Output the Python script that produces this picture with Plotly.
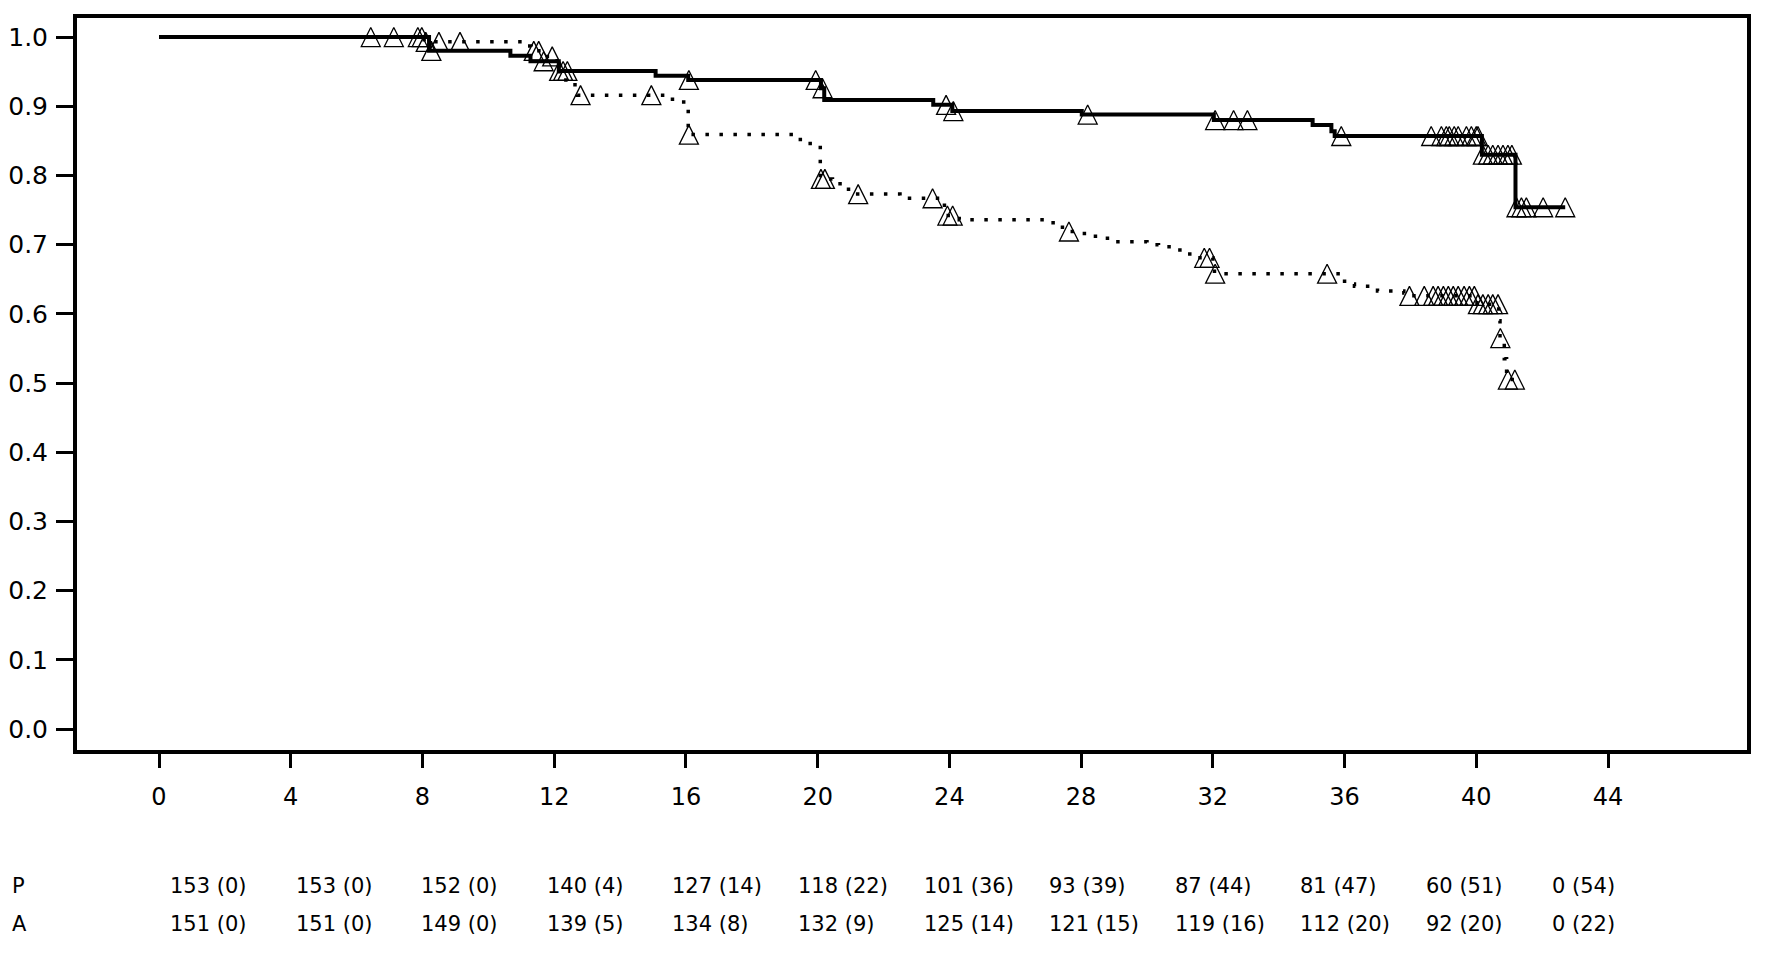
import numpy as np
import plotly.graph_objects as go

# ---- Solid curve (P): Kaplan-Meier step times and survival ----
p_time = [0, 8.2, 10.67, 11.28, 12.14, 15.08, 16.07, 20.1, 20.2, 23.51, 24.09,
          28.02, 32.03, 35.03, 35.6, 35.7, 40.17, 41.19]
p_surv = [1.0, 0.980, 0.973, 0.965, 0.951, 0.944, 0.938, 0.926, 0.909, 0.902, 0.893,
          0.888, 0.880, 0.873, 0.864, 0.857, 0.830, 0.754]
p_end = 42.7
p_cens = [6.43, 7.86, 8.27, 11.68, 12.15, 12.27, 12.4, 16.09, 19.94, 20.15, 23.9,
          24.12, 28.2, 32.07, 32.63, 33.05, 35.9, 38.63, 38.94, 39.09, 39.18, 39.33,
          39.45, 39.7, 39.85, 40.0, 40.05, 40.2, 40.36, 40.5, 40.66, 40.81, 40.96,
          41.08, 41.22, 41.37, 41.52, 42.03, 42.7]

# ---- Dotted curve (A) ----
a_time = [0, 8.05, 11.15, 11.3, 11.73, 12.09, 12.15, 12.22, 12.45, 12.7, 15.35,
          15.75, 16.0, 16.07, 19.25, 19.55, 20.08, 20.45, 20.75, 21.1, 22.5, 23.7,
          23.85, 24.3, 27.15, 27.5, 28.1, 28.8, 30.0, 30.35, 31.0, 31.3, 32.0, 32.05,
          36.0, 36.3, 37.0, 37.8, 37.95, 40.02, 40.68, 40.72, 40.85, 40.92]
a_surv = [1.0, 0.993, 0.987, 0.980, 0.972, 0.963, 0.950, 0.938, 0.931, 0.916, 0.910,
          0.906, 0.900, 0.859, 0.852, 0.846, 0.795, 0.788, 0.780, 0.773, 0.767, 0.763,
          0.742, 0.736, 0.725, 0.719, 0.712, 0.704, 0.700, 0.697, 0.689, 0.681, 0.674, 0.658,
          0.643, 0.640, 0.633, 0.630, 0.626, 0.614, 0.590, 0.565, 0.535, 0.505]
a_end = 41.17
a_cens = [7.13, 7.98, 8.1, 8.5, 9.14, 11.38, 11.53, 11.94, 12.8, 14.95, 16.09, 20.1,
          20.22, 21.23, 23.49, 23.94, 24.1, 27.63, 31.74, 31.9, 32.07, 35.47, 37.97,
          38.42, 38.69, 38.84, 39.0, 39.15, 39.3, 39.45, 39.63, 39.79, 39.94, 40.05,
          40.2, 40.36, 40.5, 40.66, 40.73, 40.96, 41.17]

# ---- Number-at-risk table ----
table_times = [0, 4, 8, 12, 16, 20, 24, 28, 32, 36, 40, 44]
p_n = [153, 153, 152, 140, 127, 118, 101, 93, 87, 81, 60, 0]
p_c = [0, 0, 0, 4, 14, 22, 36, 39, 44, 47, 51, 54]
a_n = [151, 151, 149, 139, 134, 132, 125, 121, 119, 112, 92, 0]
a_c = [0, 0, 0, 5, 8, 9, 14, 15, 16, 20, 20, 22]
row_labels = ["P", "A"]

x_ticks = [0, 4, 8, 12, 16, 20, 24, 28, 32, 36, 40, 44]
y_ticks = [0.0, 0.1, 0.2, 0.3, 0.4, 0.5, 0.6, 0.7, 0.8, 0.9, 1.0]


def step_at(times, surv, t):
    idx = np.searchsorted(np.asarray(times), np.asarray(t), side="right") - 1
    return np.asarray(surv)[idx]


FONT = "DejaVu Sans"
MK = 19  # censor-mark size (px)
fig = go.Figure()

# lines
fig.add_trace(go.Scatter(x=a_time + [a_end], y=a_surv + [a_surv[-1]], mode="lines",
                         line=dict(shape="hv", color="black", width=3.5, dash="3.5px,10.5px"),
                         showlegend=False, hoverinfo="skip"))
fig.add_trace(go.Scatter(x=p_time + [p_end], y=p_surv + [p_surv[-1]], mode="lines",
                         line=dict(shape="hv", color="black", width=4),
                         showlegend=False, hoverinfo="skip"))
# censor marks: open upward triangles centred on the curve
for times, surv, cens in [(a_time, a_surv, a_cens), (p_time, p_surv, p_cens)]:
    fig.add_trace(go.Scatter(x=cens, y=step_at(times, surv, cens), mode="markers",
                             marker=dict(symbol="arrow-down-open", size=MK, color="black",
                                         angle=180, standoff=MK / 2,
                                         line=dict(width=1.3, color="black")),
                             showlegend=False))

# ---- page geometry (body margin removed by the post script below) ----
W, H = 1784, 955
plot_l, plot_r, plot_t, plot_b = 77, 1747, 18, 750          # page pixels
ML, MR, MT, MB = plot_l, W - plot_r, plot_t, H - plot_b
pw, ph = plot_r - plot_l, plot_b - plot_t

col_x0, col_dx = 168, 125.6      # page pixels, left edge of each column
row_y = [886, 924]
label_x = 10
rows = [(p_n, p_c), (a_n, a_c)]
for r, (lab, (ns, cs)) in enumerate(zip(row_labels, rows)):
    yp = (plot_b - row_y[r]) / ph
    fig.add_annotation(x=(label_x - plot_l) / pw, y=yp, xref="paper", yref="paper", text=lab,
                       showarrow=False, xanchor="left", yanchor="middle",
                       font=dict(family=FONT, size=21, color="black"))
    for k, (n, c) in enumerate(zip(ns, cs)):
        fig.add_annotation(x=(col_x0 + k * col_dx - plot_l) / pw, y=yp, xref="paper",
                           yref="paper", text=f"{n} ({c})", showarrow=False,
                           xanchor="left", yanchor="middle",
                           font=dict(family=FONT, size=21, color="black"))

fig.update_layout(
    width=W, height=H, margin=dict(l=ML, r=MR, t=MT, b=MB, autoexpand=False),
    plot_bgcolor="white", paper_bgcolor="white",
    font=dict(family=FONT, color="black"),
)
fig.update_xaxes(range=[-2.49, 48.22], tickvals=x_ticks, ticktext=[str(v) for v in x_ticks],
                 automargin=False,
                 showgrid=False, zeroline=False, showline=True, linewidth=4, linecolor="black",
                 mirror=True, ticks="outside", ticklen=14, tickwidth=3, tickcolor="black",
                 tickfont=dict(family=FONT, size=24, color="black"), ticklabelstandoff=8)
fig.update_yaxes(range=[-0.0303, 1.0275], tickvals=y_ticks, ticktext=[f"{v:.1f}" for v in y_ticks],
                 automargin=False,
                 showgrid=False, zeroline=False, showline=True, linewidth=4, linecolor="black",
                 mirror=True, ticks="outside", ticklen=17, tickwidth=3, tickcolor="black",
                 tickfont=dict(family=FONT, size=25, color="black"), ticklabelstandoff=3)

fig.write_html("out.html",
               config={"displayModeBar": False, "staticPlot": True},
               post_script="document.body.style.margin='0px';document.body.style.overflow='hidden';")
